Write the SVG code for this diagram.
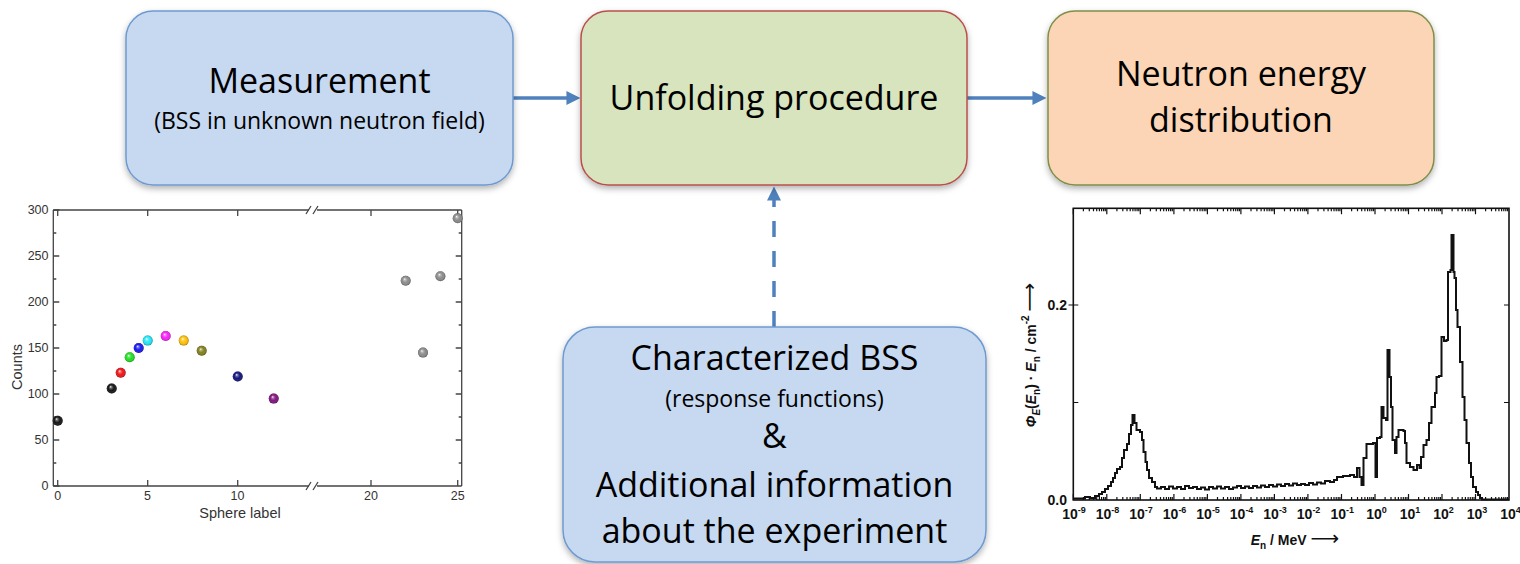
<svg xmlns="http://www.w3.org/2000/svg" xmlns:xlink="http://www.w3.org/1999/xlink" width="1520" height="564" viewBox="0 0 1520 564">
<style>
.box{stroke-width:1.5;filter:url(#sh)}
.blue{fill:#C6D9F0;stroke:#6E9AD0}
.green{fill:#D7E4BD;stroke:#B9504C}
.peach{fill:#FBD5B5;stroke:#7F8F4A}
.t1{font-family:"Open Sans","Noto Sans",sans-serif;font-size:34px;fill:#000;text-anchor:middle}
.t2{font-family:"Open Sans","Noto Sans",sans-serif;font-size:23px;fill:#000;text-anchor:middle}
.conn{fill:none;stroke:#4F81BD;stroke-width:3.5;marker-end:url(#ah)}
.dash{stroke-dasharray:16 14}
.ax{fill:none;stroke:#444;stroke-width:1.3}
.lt{font-family:"Liberation Sans",Arial,sans-serif;font-size:12.5px;fill:#333}
.lt2{font-family:"Liberation Sans",Arial,sans-serif;font-size:14.5px;fill:#333;text-anchor:middle}
.rax{fill:none;stroke:#111;stroke-width:1.6}
.rt{font-family:"Liberation Sans",Arial,sans-serif;font-size:14px;font-weight:bold;fill:#111}
.sp{font-size:9px}
</style>
<defs>
<filter id="sh" x="-10%" y="-10%" width="120%" height="135%">
<feDropShadow dx="0" dy="3" stdDeviation="3" flood-color="#000" flood-opacity="0.3"/>
</filter>
<marker id="ah" viewBox="0 0 10 10" refX="4.7" refY="5" markerWidth="4.3" markerHeight="4" orient="auto">
<path d="M0 0L10 5L0 10z" fill="#4F81BD"/>
</marker>
<radialGradient id="shine" cx="0.5" cy="0.5" r="0.5" fx="0.38" fy="0.32">
<stop offset="0" stop-color="#fff" stop-opacity="0.95"/>
<stop offset="0.25" stop-color="#fff" stop-opacity="0.35"/>
<stop offset="0.6" stop-color="#fff" stop-opacity="0"/>
<stop offset="1" stop-color="#000" stop-opacity="0.35"/>
</radialGradient>
<g id="dec">
<path d="M0 500v-6M0 208.3v6M10.1 500v-3M16 500v-3M20.2 500v-3M23.4 500v-3M26.1 500v-3M28.3 500v-3M30.3 500v-3M32 500v-3M10.1 208.3v3M16 208.3v3M20.2 208.3v3M23.4 208.3v3M26.1 208.3v3M28.3 208.3v3M30.3 208.3v3M32 208.3v3" stroke="#111" stroke-width="1.2" fill="none"/>
</g>
</defs>
<rect width="1520" height="564" fill="#fff"/>

<g id="connectors">
<path class="conn" d="M513 98H573"/>
<path class="conn" d="M967 98H1039"/>
<path class="conn dash" d="M774 327V194"/>
</g>

<g id="node-measurement">
<rect class="box blue" x="126" y="11" width="387" height="174" rx="27"/>
<text class="t1" x="319.5" y="93">Measurement</text>
<text class="t2" x="319.5" y="129">(BSS in unknown neutron field)</text>
</g>

<g id="node-unfolding">
<rect class="box green" x="581" y="11" width="386" height="174" rx="27"/>
<text class="t1" x="774" y="110">Unfolding procedure</text>
</g>

<g id="node-neutron">
<rect class="box peach" x="1048" y="11" width="386" height="174" rx="27"/>
<text class="t1" x="1241" y="86">Neutron energy</text>
<text class="t1" x="1241" y="132">distribution</text>
</g>

<g id="node-characterized">
<rect class="box blue" x="563" y="327" width="423" height="235" rx="32"/>
<text class="t1" x="774.5" y="370">Characterized BSS</text>
<text class="t2" x="774.5" y="407">(response functions)</text>
<text class="t1" x="774.5" y="448">&amp;</text>
<text class="t1" x="774.5" y="497">Additional information</text>
<text class="t1" x="774.5" y="543">about the experiment</text>
</g>

<g id="plot-counts">
<path class="ax" d="M53.3 210V486M461.7 210V486M53.3 210H309M317 210H461.7M53.3 486H309M317 486H461.7"/>
<path class="ax" d="M306 214L311 206M313 214L318 206M306 490L311 482M313 490L318 482"/>
<path class="ax" d="M53.3 486h6M53.3 440h6M53.3 394h6M53.3 348h6M53.3 302h6M53.3 256h6M53.3 210h6M53.3 463h3M53.3 417h3M53.3 371h3M53.3 325h3M53.3 279h3M53.3 233h3M461.7 440h-6M461.7 394h-6M461.7 348h-6M461.7 302h-6M461.7 256h-6M461.7 463h-3M461.7 417h-3M461.7 371h-3M461.7 325h-3M461.7 279h-3M461.7 233h-3M57.7 486v-6M147.7 486v-6M237.7 486v-6M371 486v-6M457.7 486v-6M57.7 210v6M147.7 210v6M237.7 210v6M371 210v6M457.7 210v6"/>
<g class="lt" text-anchor="end">
<text x="48.5" y="214">300</text>
<text x="48.5" y="260">250</text>
<text x="48.5" y="306">200</text>
<text x="48.5" y="352">150</text>
<text x="48.5" y="398">100</text>
<text x="48.5" y="444">50</text>
<text x="48.5" y="490">0</text>
</g>
<g class="lt" text-anchor="middle">
<text x="57.7" y="499.5">0</text>
<text x="147.5" y="499.5">5</text>
<text x="237.5" y="499.5">10</text>
<text x="371" y="499.5">20</text>
<text x="457.7" y="499.5">25</text>
</g>
<text class="lt2" x="240" y="518">Sphere label</text>
<text class="lt2" transform="translate(22 367) rotate(-90)">Counts</text>
<g>
<circle cx="57.7" cy="420.7" r="5" fill="#111"/>
<circle cx="111.7" cy="388.5" r="5" fill="#111"/>
<circle cx="120.7" cy="372.8" r="5" fill="#f01010"/>
<circle cx="129.7" cy="357.2" r="5" fill="#1ee01e"/>
<circle cx="138.7" cy="348" r="5" fill="#1414f0"/>
<circle cx="147.7" cy="340.6" r="5" fill="#1ee6f8"/>
<circle cx="165.7" cy="336" r="5" fill="#f81ef8"/>
<circle cx="183.7" cy="340.6" r="5" fill="#ffbf00"/>
<circle cx="201.7" cy="350.8" r="5" fill="#7f7f1a"/>
<circle cx="237.7" cy="376.5" r="5" fill="#10107a"/>
<circle cx="273.7" cy="398.6" r="5" fill="#80107f"/>
<circle cx="405.7" cy="280.8" r="5" fill="#8a8a8a"/>
<circle cx="423" cy="352.6" r="5" fill="#8a8a8a"/>
<circle cx="440.4" cy="276.2" r="5" fill="#8a8a8a"/>
<circle cx="457.7" cy="218.3" r="5" fill="#8a8a8a"/>
</g>
<g fill="url(#shine)">
<circle cx="57.7" cy="420.7" r="5"/>
<circle cx="111.7" cy="388.5" r="5"/>
<circle cx="120.7" cy="372.8" r="5"/>
<circle cx="129.7" cy="357.2" r="5"/>
<circle cx="138.7" cy="348" r="5"/>
<circle cx="147.7" cy="340.6" r="5"/>
<circle cx="165.7" cy="336" r="5"/>
<circle cx="183.7" cy="340.6" r="5"/>
<circle cx="201.7" cy="350.8" r="5"/>
<circle cx="237.7" cy="376.5" r="5"/>
<circle cx="273.7" cy="398.6" r="5"/>
<circle cx="405.7" cy="280.8" r="5"/>
<circle cx="423" cy="352.6" r="5"/>
<circle cx="440.4" cy="276.2" r="5"/>
<circle cx="457.7" cy="218.3" r="5"/>
</g>
</g>

<g id="plot-spectrum">
<rect class="rax" x="1073.3" y="208.3" width="435.7" height="291.7"/>
<use xlink:href="#dec" x="1073.3"/>
<use xlink:href="#dec" x="1106.8"/>
<use xlink:href="#dec" x="1140.3"/>
<use xlink:href="#dec" x="1173.9"/>
<use xlink:href="#dec" x="1207.4"/>
<use xlink:href="#dec" x="1240.9"/>
<use xlink:href="#dec" x="1274.4"/>
<use xlink:href="#dec" x="1307.9"/>
<use xlink:href="#dec" x="1341.5"/>
<use xlink:href="#dec" x="1375"/>
<use xlink:href="#dec" x="1408.5"/>
<use xlink:href="#dec" x="1442"/>
<use xlink:href="#dec" x="1475.5"/>
<path d="M1073.3 402.5h5M1073.3 305h5M1068.5 305h4.8M1509 402.5h-5M1509 305h-5" stroke="#111" stroke-width="1.2" fill="none"/>
<g class="rt" text-anchor="end">
<text x="1067" y="310">0.2</text>
<text x="1067" y="505">0.0</text>
</g>
<g class="rt" text-anchor="middle">
<text x="1074" y="519">10<tspan class="sp" dy="-6">-9</tspan></text>
<text x="1107.5" y="519">10<tspan class="sp" dy="-6">-8</tspan></text>
<text x="1141" y="519">10<tspan class="sp" dy="-6">-7</tspan></text>
<text x="1174.6" y="519">10<tspan class="sp" dy="-6">-6</tspan></text>
<text x="1208.1" y="519">10<tspan class="sp" dy="-6">-5</tspan></text>
<text x="1241.6" y="519">10<tspan class="sp" dy="-6">-4</tspan></text>
<text x="1275.1" y="519">10<tspan class="sp" dy="-6">-3</tspan></text>
<text x="1308.6" y="519">10<tspan class="sp" dy="-6">-2</tspan></text>
<text x="1342.2" y="519">10<tspan class="sp" dy="-6">-1</tspan></text>
<text x="1376.5" y="519">10<tspan class="sp" dy="-6">0</tspan></text>
<text x="1410" y="519">10<tspan class="sp" dy="-6">1</tspan></text>
<text x="1443.5" y="519">10<tspan class="sp" dy="-6">2</tspan></text>
<text x="1477" y="519">10<tspan class="sp" dy="-6">3</tspan></text>
<text x="1510.5" y="519">10<tspan class="sp" dy="-6">4</tspan></text>
</g>
<text class="rt" x="1295" y="545" text-anchor="middle" font-size="15"><tspan font-style="italic">E</tspan><tspan font-size="10" dy="4">n</tspan><tspan dy="-4"> / MeV  </tspan><tspan font-family="DejaVu Sans" font-weight="normal" font-size="20">⟶</tspan></text>
<text class="rt" transform="translate(1036 355) rotate(-90)" text-anchor="middle" font-size="15"><tspan font-style="italic">Φ</tspan><tspan font-size="10" font-style="italic" dy="4">E</tspan><tspan dy="-4">(</tspan><tspan font-style="italic">E</tspan><tspan font-size="10" dy="4">n</tspan><tspan dy="-4">) · </tspan><tspan font-style="italic">E</tspan><tspan font-size="10" dy="4">n</tspan><tspan dy="-4"> / cm</tspan><tspan font-size="10" dy="-7">-2</tspan><tspan dy="7"> </tspan><tspan font-family="DejaVu Sans" font-weight="normal" font-size="20">⟶</tspan></text>
<path fill="none" stroke="#111" stroke-width="2" stroke-linejoin="miter" d="M1073.3 498.5H1085V497H1090V498H1095V496H1099V494H1102V492H1105V489H1108V486H1111V482H1113V478H1115V473H1117V469H1120V467H1122V458H1124V450H1127V444H1129V434H1131V425H1132.5V415H1134.5V423H1136.5V430H1140V432H1142V440H1143.5V452H1145.5V462H1147V470H1149V478H1152V482H1155V487H1157V488.5H1161V487H1165V489H1169V486.5H1173V488.5H1177V487H1181V489H1185V486H1189V488H1193V487H1197V489H1201V487.5H1205V489.5H1209V487H1213V488.5H1217V486.5H1221V488.5H1225V487H1229V489H1233V487.5H1237V486H1241V488H1245V486.5H1249V488H1253V486H1257V487.5H1261V485.5H1265V487H1269V485H1273V486.5H1277V484.5H1281V486H1285V484H1289V485.5H1293V483.5H1297V485H1301V484H1305V485H1309V483H1313V484.5H1317V482.5H1321V483.5H1325V481H1330V482H1334V480H1337V477H1343V476H1350V475H1354V477H1357V468H1359.5V477H1361.5V485H1363.5V458H1366.5V444H1373V443H1375.5V477H1377V438H1380V437H1381.5V407H1383.5V418H1386V420H1387.5V350H1389.5V377H1391V407H1392.5V440H1395V453H1396.5V437H1398.5V430H1403.5V431H1405V443H1406.5V463H1410V467H1413.5V470H1417V465H1419.5V468H1421V457H1423.5V445H1426.5V440H1429V423H1431.5V407H1435V393H1436.5V377H1439V376H1441.5V337H1444V341H1446.5V340H1448V272H1450.5V270H1451.5V235H1453.5V272H1454.5V278H1456V310H1457.5V327H1460V362H1462.5V397H1464.5V420H1466.5V443H1469V463H1471V477H1473V487H1476V492H1478V495H1480V498H1482V499.5H1509"/>
</g>
</svg>
